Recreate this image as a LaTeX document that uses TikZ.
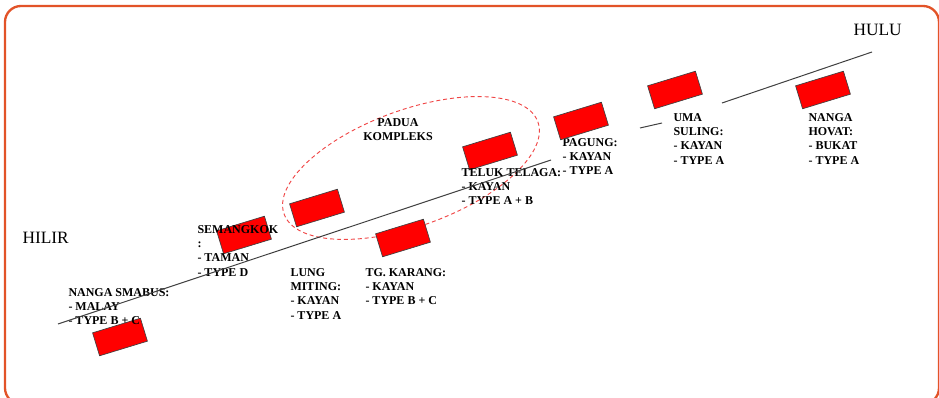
\documentclass[tikz,border=0pt]{standalone}
\usepackage{fontspec}
\setmainfont{Liberation Serif}

\definecolor{frameorange}{RGB}{226,83,40}
\definecolor{ringred}{RGB}{240,70,70}

\tikzset{every picture/.style={line width=0.75pt}}
\tikzset{
  house/.style={fill=red, draw=black!75, line width=0.5pt, minimum width=37.5pt, minimum height=18pt, inner sep=0pt, rotate=17},
  village/.style={anchor=north west, inner sep=0pt, align=left, font=\bfseries\fontsize{9}{10.7}\selectfont},
  reach/.style={anchor=north west, inner sep=0pt, font=\fontsize{13}{15}\selectfont}
}

\begin{document}
\begin{tikzpicture}[x=0.75pt,y=0.75pt,yscale=-1,xscale=1]
\useasboundingbox (0,0) rectangle (939,398);

%Rounded Rect
\draw [color=frameorange, line width=1.75pt, rounded corners=12pt] (5,6) rectangle (939,404);

%Shape: Ellipse
\draw [color=ringred, dashed, dash pattern=on 3pt off 2.2pt, line width=0.7pt, rotate around={-20:(411,168)}] (411,168) ellipse (135 and 58);

% Text Node
\node [reach] (hilir) at (22,232) {HILIR};
% Text Node
\node [reach] (hulu) at (853,24) {HULU};

%Shape: Rectangle
\node [house] (smabusbox) at (120,337) {};
%Shape: Rectangle
\node [house] (semangkokbox) at (244,235) {};
%Shape: Rectangle
\node [house] (paduabox) at (317,208) {};
%Shape: Rectangle
\node [house] (karangbox) at (403,238) {};
%Shape: Rectangle
\node [house] (telukbox) at (490,151) {};
%Shape: Rectangle
\node [house] (umabox) at (675,90) {};
%Shape: Rectangle
\node [house] (hovatbox) at (823,90) {};

% Text Node
\node [village] (smabus) at (68,288) {NANGA SMABUS:\\- MALAY\\- TYPE B + C};
% Text Node
\node [village] (semangkok) at (197,225) {SEMANGKOK\\:\\- TAMAN\\- TYPE D};
% Text Node
\node [village] (lung) at (290,268) {LUNG\\MITING:\\- KAYAN\\- TYPE A};
% Text Node
\node [village] (karang) at (365,268) {TG. KARANG:\\- KAYAN\\- TYPE B + C};
% Text Node
\node [village, anchor=north, align=center] (padua) at (398,118) {PADUA\\KOMPLEKS};
% Text Node
\node [village] (teluk) at (461,168) {TELUK TELAGA:\\- KAYAN\\- TYPE A + B};
% Text Node
\node [village] (pagung) at (562,138) {PAGUNG:\\- KAYAN\\- TYPE A};
% Text Node
\node [village] (uma) at (673,113) {UMA\\SULING:\\- KAYAN\\- TYPE A};
% Text Node
\node [village] (hovat) at (808,113) {NANGA\\HOVAT:\\- BUKAT\\- TYPE A};

%Shape: Rectangle
\node [house] (pagungbox) at (581,121) {};

%Straight Lines
\coordinate (river1) at (58,324);
\coordinate (river2) at (551,160);
\coordinate (river3) at (640,128);
\coordinate (river4) at (662,123);
\coordinate (river5) at (722,103);
\coordinate (river6) at (872,52);
\draw [color=black!75] (river1) -- (river2) ;
\draw [color=black!75] (river3) -- (river4) ;
\draw [color=black!75] (river5) -- (river6) ;

\end{tikzpicture}
\end{document}
